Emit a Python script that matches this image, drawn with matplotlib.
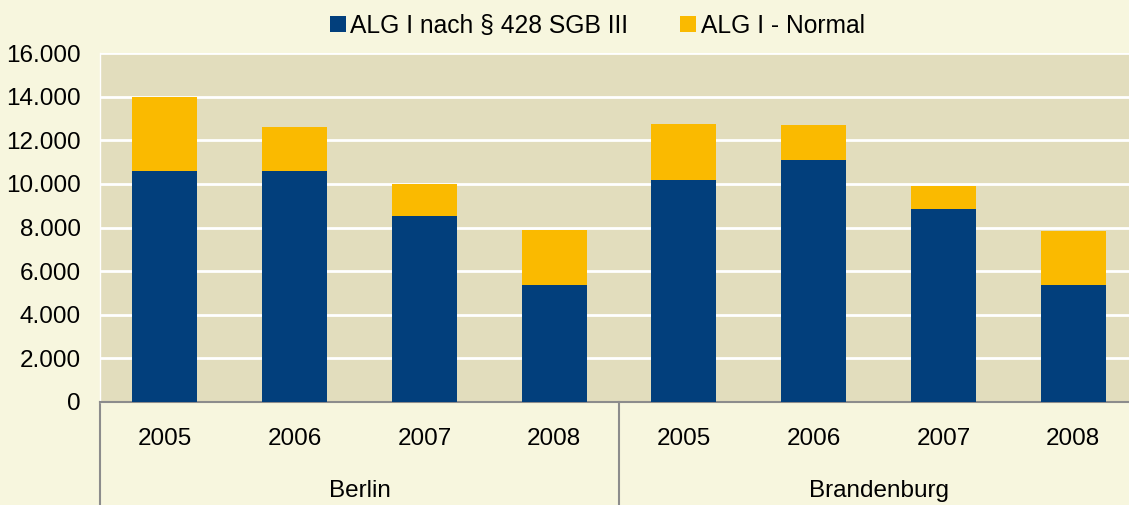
import matplotlib.pyplot as plt
import matplotlib.transforms as mtransforms
import numpy as np

plt.rcParams['font.family'] = ['Liberation Sans', 'DejaVu Sans']

# Daten
jahre = ['2005', '2006', '2007', '2008', '2005', '2006', '2007', '2008']
laender = ['Berlin', 'Brandenburg']
alg_428 = [10600, 10600, 8550, 5350, 10200, 11100, 8850, 5350]
alg_normal = [3400, 2000, 1450, 2550, 2550, 1600, 1050, 2500]

col_navy = '#023F7C'
col_gelb = '#FABA00'
bg_fig = '#F7F6DE'
bg_ax = '#E2DDBD'
fs = 17.5

fig = plt.figure(figsize=(11.29, 5.05), dpi=100, facecolor=bg_fig)
ax = fig.add_axes([100 / 1129, 1 - 402 / 505, 1 - 100 / 1129, 349 / 505])
ax.set_facecolor(bg_ax)

x = np.arange(len(jahre))
ax.bar(x, alg_428, width=0.5, color=col_navy, label='ALG I nach § 428 SGB III', zorder=3)
ax.bar(x, alg_normal, width=0.5, bottom=alg_428, color=col_gelb, label='ALG I - Normal', zorder=3)

ax.set_xlim(-0.5, 7.43)
ax.set_ylim(0, 16000)
ax.set_yticks(range(0, 16001, 2000))
ax.set_yticklabels([f'{v:,}'.replace(',', '.') for v in range(0, 16001, 2000)], fontsize=fs)
ax.grid(axis='y', color='white', linewidth=2, zorder=1)
ax.set_xticks(x)
ax.set_xticklabels(jahre, fontsize=fs)
ax.tick_params(axis='x', length=0, pad=19)
ax.tick_params(axis='y', length=0, pad=14)

for s in ['top', 'right']:
    ax.spines[s].set_visible(False)
ax.spines['left'].set_color('white')
ax.spines['left'].set_linewidth(1)
ax.spines['bottom'].set_color('#8C8C8C')
ax.spines['bottom'].set_linewidth(1.5)

# Gruppen-Trennlinien und Beschriftung
trans = mtransforms.blended_transform_factory(ax.transData, ax.transAxes)
for xl in [-0.5, 3.5, 7.5]:
    ax.plot([xl, xl], [0, -0.35], color='#8C8C8C', linewidth=1.5, transform=trans, clip_on=False)
for i, land in enumerate(laender):
    ax.text(1.5 + 4 * i, -0.255, land, transform=trans, ha='center', va='center', fontsize=fs)

fig.legend(loc='upper center', bbox_to_anchor=(0.529, 1.017), ncol=2, frameon=False,
           fontsize=fs + 0.2, handlelength=0.65, handleheight=0.65, handletextpad=0.2, columnspacing=2.1)

plt.savefig('out.png', dpi=100, facecolor=bg_fig)
